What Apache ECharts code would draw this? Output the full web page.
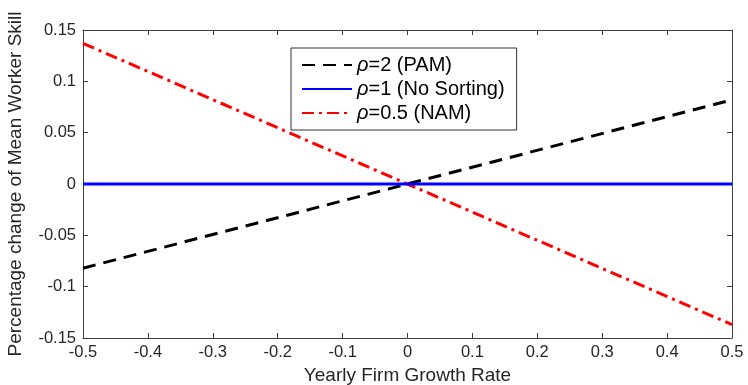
<!DOCTYPE html>
<html><head><meta charset="utf-8">
<script src="https://cdn.jsdelivr.net/npm/echarts@6/dist/echarts.min.js"></script>
<style>html,body{margin:0;padding:0;background:#fff}#c{width:748px;height:385px}</style>
</head><body><div id="c"></div>
<script>
const xValues = [-0.5, 0.5];
const pamValues = [-0.082, 0.082];
const noSortValues = [0, 0];
const namValues = [0.137, -0.137];
const seriesNames = ['ρ=2 (PAM)', 'ρ=1 (No Sorting)', 'ρ=0.5 (NAM)'];
const xTitle = 'Yearly Firm Growth Rate';
const yTitle = 'Percentage change of Mean Worker Skill';

const font = 'Liberation Sans, Arial, Helvetica, sans-serif';
const axisCol = '#404040';
const txtCol = '#262626';
const fmt = v => String(+v.toFixed(2));

function pairs(ys){ return xValues.map((x,i)=>[x, ys[i]]); }

const chart = echarts.init(document.getElementById('c'));
const baseX = {
  type:'value', min:-0.5, max:0.5, interval:0.1,
  axisLine:{show:true, onZero:false, lineStyle:{color:axisCol, width:1}},
  axisTick:{show:true, inside:true, length:5, lineStyle:{color:axisCol}},
  splitLine:{show:false}
};
const baseY = {
  type:'value', min:-0.15, max:0.15, interval:0.05,
  axisLine:{show:true, onZero:false, lineStyle:{color:axisCol, width:1}},
  axisTick:{show:true, inside:true, length:5, lineStyle:{color:axisCol}},
  splitLine:{show:false}
};
chart.setOption({
  animation:false,
  backgroundColor:'#fff',
  grid:{left:83, right:16, top:30, bottom:47, containLabel:false, outerBoundsMode:'none'},
  xAxis:[
    Object.assign({}, baseX, {position:'bottom', name:xTitle, nameLocation:'middle', nameGap:28,
      nameTextStyle:{fontFamily:font, fontSize:19, color:txtCol},
      axisLabel:{formatter:fmt, fontFamily:font, fontSize:16.5, color:txtCol, margin:6}}),
    Object.assign({}, baseX, {position:'top', axisLabel:{show:false}})
  ],
  yAxis:[
    Object.assign({}, baseY, {position:'left', name:yTitle, nameLocation:'middle', nameGap:58,
      nameTextStyle:{fontFamily:font, fontSize:19, color:txtCol},
      axisLabel:{formatter:fmt, fontFamily:font, fontSize:16.5, color:txtCol, margin:7}}),
    Object.assign({}, baseY, {position:'right', axisLabel:{show:false}})
  ],
  legend:{
    orient:'vertical', left:291, top:48,
    backgroundColor:'#fff', borderColor:'#333', borderWidth:1,
    padding:[6,12,6,10], itemGap:1, itemWidth:50, itemHeight:16, itemGap:2,
    itemStyle:{opacity:0},
    data:seriesNames,
    formatter: n => '{i|ρ}' + n.slice(1),
    textStyle:{fontFamily:font, fontSize:20, lineHeight:22, color:'#000',
      rich:{i:{fontStyle:'italic', fontFamily:font, fontSize:20, lineHeight:22, color:'#000'}}}
  },
  series:[
    {name:seriesNames[0], type:'line', data:pairs(pamValues), symbol:'none', z:3,
      lineStyle:{color:'#000', width:3, type:[13,8]}, itemStyle:{color:'#000'}},
    {name:seriesNames[1], type:'line', data:pairs(noSortValues), symbol:'none', z:4,
      lineStyle:{color:'#0000ff', width:3, type:'solid'}, itemStyle:{color:'#0000ff'}},
    {name:seriesNames[2], type:'line', data:pairs(namValues), symbol:'none', z:2,
      lineStyle:{color:'#ff0000', width:3, type:[12,5,3,5]}, itemStyle:{color:'#ff0000'}}
  ]
});
</script></body></html>
